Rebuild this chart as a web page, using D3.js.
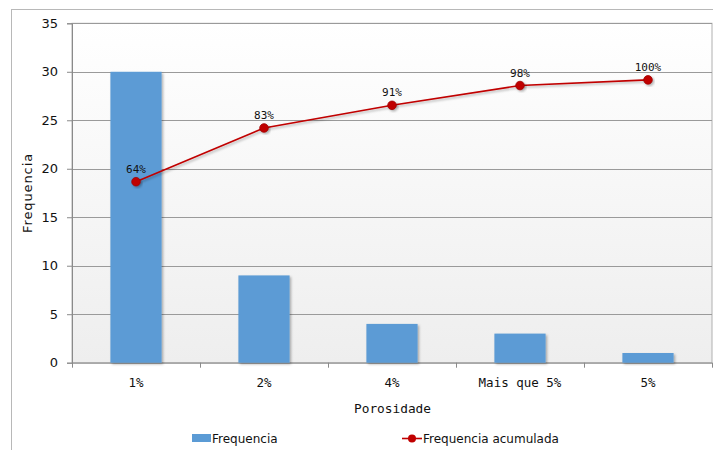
<!DOCTYPE html>
<html>
<head>
<meta charset="utf-8">
<script src="https://cdn.jsdelivr.net/npm/d3@7"></script>
<style>
  html, body { margin: 0; padding: 0; background: #fff; }
  svg { display: block; }
</style>
</head>
<body>
<svg id="chart" width="713" height="450"></svg>
<script>
// Porosity histogram with cumulative frequency (Pareto style)
const categories = ["1%", "2%", "4%", "Mais que 5%", "5%"];
const frequencia = [30, 9, 4, 3, 1];
const acumulada = [0.64, 0.83, 0.91, 0.98, 1.00];
const acumuladaLabels = ["64%", "83%", "91%", "98%", "100%"];
const yTicks = [0, 5, 10, 15, 20, 25, 30, 35];

const svg = d3.select("#chart");
const plot = { left: 72, top: 23.3, right: 712, bottom: 362.7 };

const x = d3.scaleBand()
  .domain(categories)
  .range([plot.left, plot.right])
  .paddingInner(0.6)
  .paddingOuter(0.3);

const y = d3.scaleLinear().domain([0, 35]).range([plot.bottom, plot.top]);
// hidden secondary axis for the cumulative share
const y2 = d3.scaleLinear().domain([0, 1.2]).range([plot.bottom, plot.top]);

const defs = svg.append("defs");
const grad = defs.append("linearGradient")
  .attr("id", "plotBg").attr("x1", 0).attr("y1", 0).attr("x2", 0).attr("y2", 1);
grad.append("stop").attr("offset", "0%").attr("stop-color", "#ffffff");
grad.append("stop").attr("offset", "100%").attr("stop-color", "#eeeeee");

const shadow = defs.append("filter").attr("id", "shadow")
  .attr("x", "-20%").attr("y", "-20%").attr("width", "150%").attr("height", "150%");
shadow.append("feDropShadow")
  .attr("dx", 1.5).attr("dy", 1.5).attr("stdDeviation", 1)
  .attr("flood-color", "#000").attr("flood-opacity", 0.3);

// outer chart frame
svg.append("rect")
  .attr("x", 11.5).attr("y", 9.5).attr("width", 720).attr("height", 460)
  .attr("fill", "#fff").attr("stroke", "#b8b8b8").attr("stroke-width", 1);

// plot background
svg.append("rect")
  .attr("x", plot.left).attr("y", plot.top)
  .attr("width", plot.right - plot.left).attr("height", plot.bottom - plot.top)
  .attr("fill", "url(#plotBg)")
  .attr("stroke", "#b0b0b0").attr("stroke-width", 1);

// horizontal gridlines
svg.append("g").selectAll("line")
  .data(yTicks.filter(d => d > 0))
  .join("line")
  .attr("x1", plot.left).attr("x2", plot.right)
  .attr("y1", d => Math.round(y(d)) + 0.5).attr("y2", d => Math.round(y(d)) + 0.5)
  .attr("stroke", "#9a9a9a").attr("stroke-width", 1);

// y axis
const yAxis = svg.append("g")
  .attr("transform", `translate(${plot.left},0)`)
  .call(d3.axisLeft(y).tickValues(yTicks).tickSize(5).tickPadding(9));
yAxis.select(".domain").attr("stroke", "#8a8a8a");
yAxis.selectAll(".tick line").attr("stroke", "#8a8a8a");
yAxis.selectAll(".tick text")
  .attr("font-family", "'DejaVu Sans', sans-serif")
  .attr("font-size", 13).attr("fill", "#111");

// x axis baseline with ticks at category boundaries
const step = x.step();
const boundaries = d3.range(categories.length + 1).map(i => plot.left + i * step);
svg.append("line")
  .attr("x1", plot.left).attr("x2", plot.right)
  .attr("y1", plot.bottom + 0.5).attr("y2", plot.bottom + 0.5)
  .attr("stroke", "#8a8a8a");
svg.append("g").selectAll("line")
  .data(boundaries)
  .join("line")
  .attr("x1", d => Math.round(d) + 0.5).attr("x2", d => Math.round(d) + 0.5)
  .attr("y1", plot.bottom).attr("y2", plot.bottom + 5)
  .attr("stroke", "#8a8a8a");
svg.append("g").selectAll("text")
  .data(categories)
  .join("text")
  .attr("x", d => x(d) + x.bandwidth() / 2)
  .attr("y", 387)
  .attr("text-anchor", "middle")
  .attr("font-family", "'DejaVu Sans Mono', monospace")
  .attr("font-size", 12.5).attr("fill", "#111")
  .text(d => d);

// bars
svg.append("g").selectAll("rect")
  .data(categories)
  .join("rect")
  .attr("x", d => x(d))
  .attr("y", (d, i) => y(frequencia[i]))
  .attr("width", x.bandwidth())
  .attr("height", (d, i) => y(0) - y(frequencia[i]))
  .attr("fill", "#5b9bd5")
  .attr("filter", "url(#shadow)");

// cumulative line
const pts = categories.map((c, i) => [x(c) + x.bandwidth() / 2, y2(acumulada[i])]);
svg.append("path")
  .attr("d", d3.line()(pts))
  .attr("fill", "none").attr("stroke", "#c00000").attr("stroke-width", 1.6)
  .attr("filter", "url(#shadow)");
svg.append("g").selectAll("circle")
  .data(pts)
  .join("circle")
  .attr("cx", d => d[0]).attr("cy", d => d[1]).attr("r", 4.3)
  .attr("fill", "#c00000").attr("stroke", "#a00000").attr("stroke-width", 0.8)
  .attr("filter", "url(#shadow)");
svg.append("g").selectAll("text")
  .data(pts)
  .join("text")
  .attr("x", d => d[0]).attr("y", d => d[1] - 9)
  .attr("text-anchor", "middle")
  .attr("font-family", "'DejaVu Sans Mono', monospace")
  .attr("font-size", 11).attr("fill", "#111")
  .text((d, i) => acumuladaLabels[i]);

// axis titles
svg.append("text")
  .attr("x", (plot.left + plot.right) / 2 + 0.5).attr("y", 413)
  .attr("text-anchor", "middle")
  .attr("font-family", "'DejaVu Sans Mono', monospace")
  .attr("font-size", 12.8).attr("fill", "#111")
  .text("Porosidade");
svg.append("text")
  .attr("transform", `translate(32,${(plot.top + plot.bottom) / 2 + 0}) rotate(-90)`)
  .attr("text-anchor", "middle")
  .attr("font-family", "'DejaVu Sans', sans-serif")
  .attr("font-size", 13).attr("letter-spacing", 0.9).attr("fill", "#111")
  .text("Frequencia");

// legend
const legend = svg.append("g").attr("font-family", "'DejaVu Sans', sans-serif")
  .attr("font-size", 12).attr("fill", "#111");
legend.append("rect")
  .attr("x", 192).attr("y", 434).attr("width", 19).attr("height", 8)
  .attr("fill", "#5b9bd5");
legend.append("text").attr("x", 212).attr("y", 443).text("Frequencia");
legend.append("line")
  .attr("x1", 402).attr("x2", 422).attr("y1", 438.5).attr("y2", 438.5)
  .attr("stroke", "#c00000").attr("stroke-width", 1.6);
legend.append("circle").attr("cx", 412).attr("cy", 438.5).attr("r", 4)
  .attr("fill", "#c00000");
legend.append("text").attr("x", 423).attr("y", 443).text("Frequencia acumulada");
</script>
</body>
</html>
